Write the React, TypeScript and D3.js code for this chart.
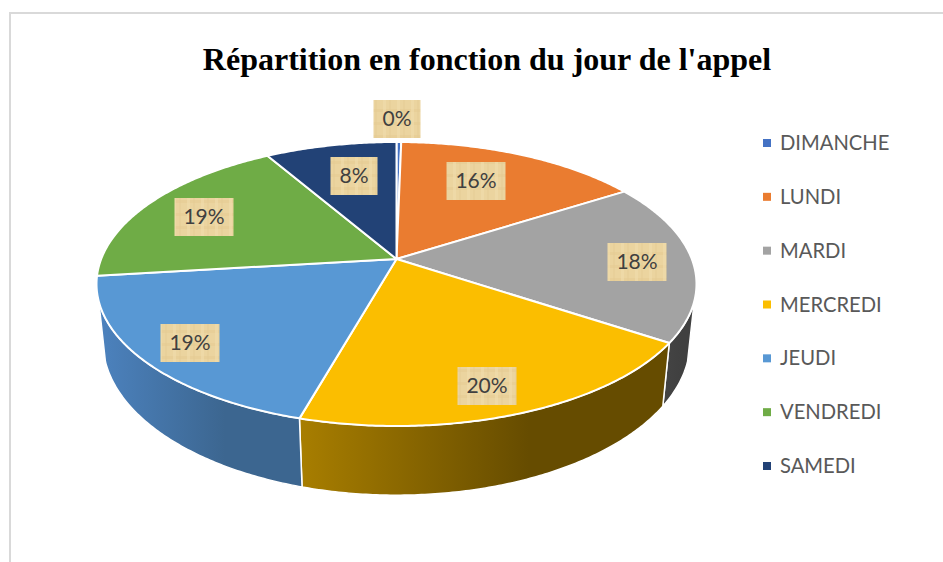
import React from "react";
import * as d3 from "d3";

// ---- data ----
const TITLE = "Répartition en fonction du jour de l'appel";
const categories = ["DIMANCHE", "LUNDI", "MARDI", "MERCREDI", "JEUDI", "VENDREDI", "SAMEDI"];
const values = [0.3, 15.7, 18.3, 20.1, 18.7, 18.5, 8.4];
const topColors = ["#4472C4", "#EA7C30", "#A3A3A3", "#FBBE00", "#5898D4", "#6FAC46", "#224276"];
const wallLight = ["#4472C4", "#EA7C30", "#444444", "#A87E00", "#4C82BE", "#6FAC46", "#224276"];
const wallDark = ["#4472C4", "#EA7C30", "#404040", "#664C00", "#3C6690", "#6FAC46", "#224276"];

// ---- layout ----
const W = 943, H = 562;
const APEX_X = 396.5, APEX_Y = 259;
const R = 295.3, A = 137.6, K = 0.176; // projective circle -> perspective ellipse
const WALL = 57;
const VANISH_Y = 3000;
const WALL_FROM = (17 * Math.PI) / 180, WALL_TO = (163 * Math.PI) / 180;
const labelCenters: [number, number][] = [[397, 119], [476, 181], [637, 262], [487, 386], [190, 343], [204, 217], [354, 176]];
const LABEL_H = 38;
const LEGEND_X = 763, LEGEND_TEXT_X = 780;

const project = (t: number) => {
  const s = Math.sin(t), c = Math.cos(t), w = 1 - K * s;
  return [APEX_X + (R * c) / w, APEX_Y + (A * s) / w];
};
const projectBottom = (t: number) => {
  const [x, y] = project(t);
  const h = WALL / (1 - K * Math.sin(t));
  const f = h / (VANISH_Y - y);
  return [x + (APEX_X - x) * f, y + h];
};
const sample = (a0: number, a1: number) => {
  const n = Math.max(2, Math.ceil(Math.abs(a1 - a0) / 0.01));
  return d3.range(n + 1).map((i) => a0 + ((a1 - a0) * i) / n);
};

export default function App() {
  const arcs = d3.pie<number>().sort(null).startAngle(0).endAngle(2 * Math.PI)(values);
  const line = d3.line();
  const legendY = d3.scalePoint<string>().domain(categories).range([143, 466]);
  const faces = arcs.map((d) => {
    const ts = sample(d.startAngle - Math.PI / 2, d.endAngle - Math.PI / 2);
    return line([[APEX_X, APEX_Y], ...ts.map((t) => project(t) as [number, number])]) + "Z";
  });
  const walls = arcs.map((d, i) => {
    const lo = Math.max(d.startAngle - Math.PI / 2, WALL_FROM);
    const hi = Math.min(d.endAngle - Math.PI / 2, WALL_TO);
    if (hi <= lo) return null;
    const ts = sample(lo, hi);
    const pts = [...ts.map(project), ...ts.slice().reverse().map(projectBottom)] as [number, number][];
    const xs = pts.map((p) => p[0]);
    return { i, path: line(pts) + "Z", x0: d3.min(xs)!, x1: d3.max(xs)! };
  }).filter(Boolean) as { i: number; path: string; x0: number; x1: number }[];

  return (
    <svg width={W} height={H} viewBox={`0 0 ${W} ${H}`} style={{ position: "absolute", left: 0, top: 0, display: "block" }}>
      <defs>
        {walls.map((w) => (
          <linearGradient key={w.i} id={`wall${w.i}`} gradientUnits="userSpaceOnUse" x1={w.x0} x2={w.x1} y1={0} y2={0}>
            <stop offset="0" stopColor={wallLight[w.i]} />
            <stop offset="0.62" stopColor={wallDark[w.i]} />
            <stop offset="1" stopColor={wallDark[w.i]} />
          </linearGradient>
        ))}
        <pattern id="parch" width={14} height={13} patternUnits="userSpaceOnUse">
          <rect width={14} height={13} fill="#EBD49F" />
          <rect x={0} y={5} width={14} height={3} fill="#E6CB92" opacity={0.6} />
          <rect x={5} y={0} width={3} height={13} fill="#F0DCAC" opacity={0.6} />
          <rect x={11} y={0} width={2} height={13} fill="#E3CA94" opacity={0.4} />
        </pattern>
      </defs>
      <rect width={W} height={H} fill="#fff" />
      <path d={`M10 ${H}V13H${W}`} fill="none" stroke="#D9D9D9" strokeWidth={2} />
      <text x={487} y={70} textAnchor="middle" fontFamily="'Liberation Serif'" fontWeight="bold" fontSize={32} fill="#000">{TITLE}</text>

      {walls.map((w) => (
        <path key={w.i} d={w.path} fill={`url(#wall${w.i})`} stroke="#fff" strokeWidth={1.5} strokeLinejoin="round" />
      ))}
      {faces.map((f, i) => (
        <path key={i} d={f} fill={topColors[i]} stroke="#fff" strokeWidth={2} strokeLinejoin="round" />
      ))}

      {values.map((v, i) => {
        const label = `${Math.round(v)}%`;
        const [cx, cy] = labelCenters[i];
        const bw = label.length * 12 + 23;
        return (
          <g key={i}>
            <rect x={cx - bw / 2} y={cy - LABEL_H / 2} width={bw} height={LABEL_H} fill="url(#parch)" />
            <text x={cx} y={cy + 7} textAnchor="middle" fontFamily="Lato" fontSize={21} fill="#404040">{label}</text>
          </g>
        );
      })}

      {categories.map((c, i) => (
        <g key={c}>
          <rect x={LEGEND_X} y={legendY(c)! - 4} width={8} height={8} fill={topColors[i]} />
          <text x={LEGEND_TEXT_X} y={legendY(c)! + 7} fontFamily="Lato" fontSize={20.2} fill="#595959">{c}</text>
        </g>
      ))}
    </svg>
  );
}
